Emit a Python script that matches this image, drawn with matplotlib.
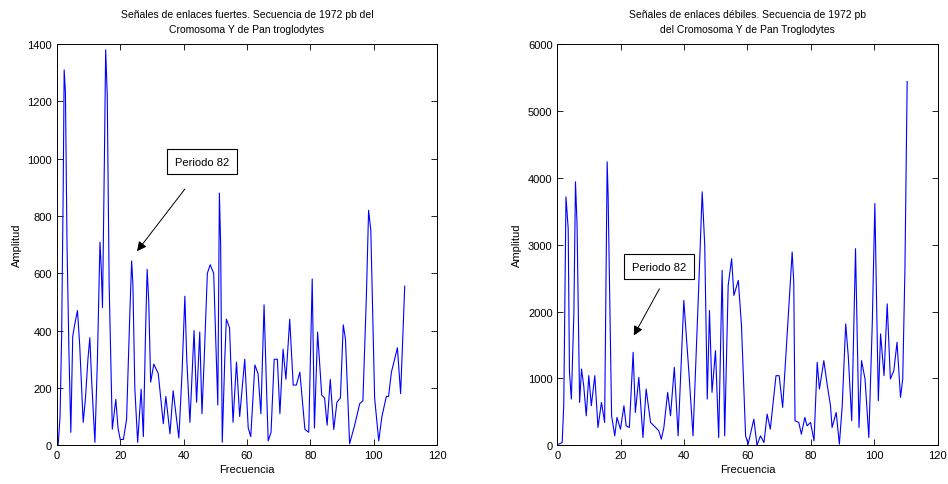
import numpy as np
import matplotlib
matplotlib.use("Agg")
import matplotlib.pyplot as plt

plt.rcParams["font.family"] = ["Liberation Sans", "DejaVu Sans"]
plt.rcParams["font.size"] = 8

# strong-bond signal (left panel)
freq_fuertes = [0.4, 1.0, 1.5, 2.0, 2.3, 2.7, 3.2, 3.8, 4.4, 5.0, 5.6, 6.5, 7.2, 8.3, 9.0,
                9.8, 10.4, 11.0, 12.0, 12.8, 13.6, 14.0, 14.4, 15.0, 15.4, 15.9, 16.5, 17.5,
                18.6, 19.3, 20.0, 21.0, 22.0, 23.0, 23.6, 24.0, 24.6, 25.5, 26.6, 27.3, 28.0,
                28.5, 29.0, 29.6, 30.6, 32.0, 33.6, 34.4, 35.7, 36.7, 38.5, 39.5, 40.4, 41.0,
                42.0, 43.3, 44.1, 45.1, 45.8, 46.5, 47.5, 48.4, 49.5, 50.2, 50.8, 51.3, 51.7,
                52.2, 53.0, 53.5, 54.5, 55.6, 56.7, 57.7, 59.3, 60.4, 61.2, 62.5, 63.5, 64.4,
                65.4, 66.2, 66.7, 67.6, 68.6, 69.6, 70.4, 71.4, 72.3, 73.5, 74.6, 75.6, 76.7,
                78.3, 79.5, 80.6, 81.3, 82.3, 83.6, 84.5, 85.3, 86.3, 87.4, 88.4, 89.5, 90.4,
                91.1, 92.4, 94.0, 95.6, 96.6, 97.7, 98.4, 99.1, 100.3, 101.6, 102.6, 104.0,
                104.7, 105.6, 107.5, 108.5, 109.0, 109.8]
amp_fuertes = [0, 100, 380, 900, 1310, 1230, 700, 330, 45, 380, 420, 470, 350, 80, 160,
               300, 375, 220, 10, 300, 709, 620, 480, 1000, 1380, 1220, 560, 56,
               160, 60, 20, 20, 90, 450, 643, 560, 200, 10, 195, 30, 400,
               614, 500, 220, 283, 250, 75, 170, 40, 190, 25, 250, 520, 300,
               80, 400, 150, 395, 110, 300, 600, 630, 600, 350, 140, 880, 700,
               10, 300, 440, 410, 80, 290, 100, 300, 60, 30, 280, 250, 110,
               490, 190, 15, 45, 300, 300, 110, 335, 230, 440, 210, 210, 255,
               55, 45, 580, 60, 395, 175, 165, 70, 230, 55, 150, 165, 420,
               370, 5, 70, 145, 155, 520, 820, 750, 165, 15, 100, 170,
               170, 255, 340, 180, 320, 555]

# weak-bond signal (right panel)
freq_debiles = [0.4, 1.5, 2.0, 2.7, 3.4, 3.8, 4.4, 5.2, 5.7, 6.2, 7.0, 7.6, 8.3, 9.1, 9.9,
                10.7, 11.8, 12.8, 13.9, 14.9, 15.7, 16.0, 17.1, 18.1, 18.8, 19.9, 21.0, 21.7,
                22.7, 23.9, 24.6, 25.7, 27.0, 28.0, 29.4, 31.0, 32.0, 32.8, 33.6, 34.8, 35.7,
                36.9, 38.1, 39.9, 41.5, 42.8, 44.6, 45.7, 46.5, 47.3, 48.0, 48.8, 49.9, 50.9,
                52.0, 52.8, 53.9, 55.0, 55.7, 57.1, 58.1, 59.4, 60.2, 62.0, 63.0, 64.1, 65.2,
                66.2, 67.2, 69.0, 70.0, 71.1, 72.5, 74.1, 74.6, 75.0, 76.2, 77.0, 78.1, 78.8,
                79.9, 81.0, 82.0, 82.7, 84.1, 85.2, 86.2, 86.7, 88.0, 89.0, 89.9, 91.0, 91.8,
                92.9, 94.1, 95.2, 96.0, 97.1, 98.3, 99.4, 100.2, 101.3, 102.0, 103.1, 104.1,
                105.1, 106.2, 107.2, 108.3, 109.0, 109.7, 110.4]
amp_debiles = [15, 40, 600, 3715, 3240, 1090, 690, 1990, 3940, 3290, 640, 1140, 890, 440, 1040,
               590, 1040, 265, 640, 340, 4240, 3740, 440, 140, 415, 240, 590, 290,
               265, 1390, 490, 1015, 115, 840, 340, 265, 215, 90, 265, 790, 440,
               1165, 140, 2165, 1090, 140, 2365, 3790, 2990, 690, 2015, 790, 1415, 115,
               2615, 140, 2390, 2790, 2240, 2465, 1790, 140, 15, 390, 0, 140, 40,
               465, 240, 1040, 1040, 565, 1640, 2890, 2440, 365, 340, 165, 415, 290,
               340, 65, 1240, 840, 1265, 890, 590, 265, 490, 15, 590, 1815, 1340,
               365, 2940, 265, 1265, 990, 115, 1840, 3615, 665, 1665, 1040, 2115,
               990, 1115, 1540, 715, 990, 2640, 5440]

fig = plt.figure(figsize=(9.48, 4.85), dpi=100)
ax1 = fig.add_axes([0.060, 0.080, 0.401, 0.827])
ax2 = fig.add_axes([0.588, 0.080, 0.401, 0.827])

ax1.plot(freq_fuertes, amp_fuertes, color="#0000ff", lw=0.8)
ax2.plot(freq_debiles, amp_debiles, color="#0000ff", lw=0.8)

for ax in (ax1, ax2):
    ax.set_xlim(0, 120)
    ax.set_xticks(np.arange(0, 121, 20))
    ax.tick_params(direction="in", top=True, right=True, length=4, width=0.6, labelsize=8)
    for s in ax.spines.values():
        s.set_linewidth(0.7)
    ax.set_xlabel("Frecuencia", fontsize=8, labelpad=3)
    ax.set_ylabel("Amplitud", fontsize=8)

ax1.set_ylim(0, 1400)
ax1.set_yticks(np.arange(0, 1401, 200))
ax2.set_ylim(0, 6000)
ax2.set_yticks(np.arange(0, 6001, 1000))

ax1.set_title("Señales de enlaces fuertes. Secuencia de 1972 pb del\nCromosoma Y de Pan troglodytes",
              fontsize=7.5, pad=9, linespacing=1.6)
ax2.set_title("Señales de enlaces débiles. Secuencia de 1972 pb\ndel Cromosoma Y de Pan Troglodytes",
              fontsize=7.5, pad=9, linespacing=1.6)

box = dict(boxstyle="square,pad=0.7", fc="white", ec="black", lw=0.8)
arrow = dict(arrowstyle="-|>", color="black", lw=0.7, mutation_scale=14, shrinkA=0, shrinkB=0)

ax1.text(45.8, 990, "Periodo 82", ha="center", va="center", bbox=box)
ax1.annotate("", xy=(25.3, 677), xytext=(40.4, 894), arrowprops=arrow)

ax2.text(32.0, 2670, "Periodo 82", ha="center", va="center", bbox=box)
ax2.annotate("", xy=(24.1, 1640), xytext=(32.2, 2340), arrowprops=arrow)

fig.savefig("out.png", dpi=100)
